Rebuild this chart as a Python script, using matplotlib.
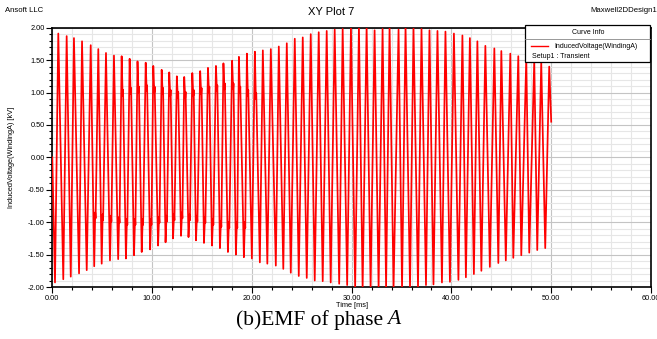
import numpy as np
import matplotlib.pyplot as plt
from matplotlib.ticker import MultipleLocator, FormatStrFormatter
from matplotlib.patches import Rectangle
from matplotlib.lines import Line2D

# Positive peaks of the induced voltage (time in ms, value in kV)
peak_t = [0.6, 1.44, 2.17, 2.98, 3.85, 4.61, 5.38, 6.18, 6.95, 7.75,
          8.54, 9.36, 10.12, 10.96, 11.72, 12.48, 13.22, 14.03, 14.82, 15.6,
          16.4, 17.15, 18.02, 18.7, 19.5, 20.3, 21.1, 21.9, 22.7, 23.5,
          24.3, 25.1, 25.9, 26.7, 27.5, 28.3, 29.1, 29.93, 30.73, 31.5,
          32.3, 33.1, 33.8, 34.7, 35.4, 36.2, 37.0, 37.8, 38.6, 39.4,
          40.25, 41.1, 41.85, 42.6, 43.4, 44.3, 45.0, 45.9, 46.7, 47.5,
          48.3, 49.0, 49.8]
peak_v = [1.91, 1.87, 1.84, 1.79, 1.73, 1.67, 1.61, 1.57, 1.56, 1.52,
          1.48, 1.46, 1.41, 1.35, 1.31, 1.25, 1.24, 1.30, 1.33, 1.38,
          1.41, 1.45, 1.49, 1.55, 1.60, 1.63, 1.65, 1.67, 1.71, 1.76,
          1.83, 1.85, 1.90, 1.93, 1.95, 1.97, 1.98, 2.00, 2.02, 2.02,
          1.96, 1.98, 2.02, 1.97, 2.02, 1.99, 1.98, 1.96, 1.95, 1.94,
          1.91, 1.88, 1.84, 1.79, 1.72, 1.68, 1.64, 1.60, 1.56, 1.53,
          1.50, 1.47, 1.40]

# Negative peaks (troughs)
trough_t = [0.27, 1.1, 1.85, 2.68, 3.45, 4.2, 4.95, 5.78, 6.6, 7.38,
            8.19, 8.96, 9.8, 10.6, 11.35, 12.1, 12.9, 13.65, 14.4, 15.2,
            16.0, 16.8, 17.6, 18.4, 19.2, 20.0, 20.8, 21.55, 22.4, 23.15,
            23.9, 24.7, 25.5, 26.3, 27.1, 27.9, 28.75, 29.55, 30.35, 31.1,
            31.9, 32.7, 33.45, 34.2, 35.05, 35.85, 36.65, 37.45, 38.2, 39.05,
            39.85, 40.7, 41.45, 42.25, 43.0, 43.85, 44.7, 45.45, 46.2, 47.0,
            47.8, 48.6, 49.4]
trough_v = [-1.93, -1.88, -1.84, -1.79, -1.74, -1.68, -1.64, -1.59, -1.57, -1.56,
            -1.51, -1.46, -1.42, -1.36, -1.31, -1.25, -1.21, -1.23, -1.28, -1.32,
            -1.36, -1.40, -1.46, -1.50, -1.54, -1.56, -1.62, -1.64, -1.67, -1.72,
            -1.78, -1.83, -1.86, -1.90, -1.91, -1.93, -1.95, -1.97, -2.01, -2.02,
            -2.02, -2.01, -2.00, -2.01, -2.00, -2.00, -2.00, -1.97, -1.96, -1.93,
            -1.92, -1.89, -1.85, -1.80, -1.75, -1.69, -1.63, -1.59, -1.55, -1.51,
            -1.47, -1.43, -1.40]

# small notches on the falling edge after the positive peaks (7-21 ms)
pos_dip_t = [7.05, 7.85, 8.64, 9.46, 10.22, 11.06, 11.82, 12.58, 13.32, 14.13,
             14.92, 15.7, 16.5, 17.25, 18.12, 18.8, 19.6, 20.4]
pos_dip_v = [0.95, 0.98, 1.00, 1.02, 1.00, 0.98, 0.95, 0.92, 0.92, 0.95,
             0.98, 1.00, 1.02, 1.05, 1.05, 1.00, 0.95, 0.90]
pos_bump_t = [7.09, 7.89, 8.68, 9.50, 10.26, 11.10, 11.86, 12.62, 13.36, 14.17,
              14.96, 15.74, 16.54, 17.29, 18.16, 18.84, 19.64, 20.44]
pos_bump_v = [1.04, 1.07, 1.09, 1.11, 1.09, 1.07, 1.04, 1.01, 1.01, 1.04,
              1.07, 1.09, 1.11, 1.14, 1.14, 1.09, 1.04, 0.99]

# small notches on the rising edge after the troughs (4-20 ms)
neg_dip_t = [4.3, 5.05, 5.88, 6.7, 7.48, 8.29, 9.06, 9.9, 10.7, 11.45,
             12.2, 13.0, 13.75, 14.5, 15.3, 16.1, 16.9, 17.7, 18.5, 19.3]
neg_dip_v = [-0.85, -0.88, -0.90, -0.92, -0.95, -0.95, -0.95, -0.95, -0.92, -0.90,
             -0.88, -0.85, -0.88, -0.90, -0.92, -0.95, -0.98, -1.00, -1.00, -1.00]
neg_bump_t = [4.34, 5.09, 5.92, 6.74, 7.52, 8.33, 9.10, 9.94, 10.74, 11.49,
              12.24, 13.04, 13.79, 14.54, 15.34, 16.14, 16.94, 17.74, 18.54, 19.34]
neg_bump_v = [-0.94, -0.97, -0.99, -1.01, -1.04, -1.04, -1.04, -1.04, -1.01, -0.99,
              -0.97, -0.94, -0.97, -0.99, -1.01, -1.04, -1.07, -1.09, -1.09, -1.09]

# first and last samples of the trace
end_t = [0.0, 50.0]
end_v = [0.0, 0.55]

t = np.array(end_t + peak_t + trough_t + pos_dip_t + pos_bump_t + neg_dip_t + neg_bump_t)
v = np.array(end_v + peak_v + trough_v + pos_dip_v + pos_bump_v + neg_dip_v + neg_bump_v)
order = np.argsort(t)
t, v = t[order], v[order]

plt.rcParams['font.family'] = ['Liberation Sans', 'DejaVu Sans']

fig = plt.figure(figsize=(6.57, 3.39), dpi=100)
ax = fig.add_axes([52.3 / 657, 1 - 287 / 339, (651 - 52.3) / 657, (287 - 27.7) / 339])

ax.plot(t, v, color='#ff0000', lw=1.25, zorder=3)

ax.set_xlim(0, 60)
ax.set_ylim(-2, 2)
ax.xaxis.set_major_locator(MultipleLocator(10))
ax.xaxis.set_minor_locator(MultipleLocator(2))
ax.yaxis.set_major_locator(MultipleLocator(0.5))
ax.yaxis.set_minor_locator(MultipleLocator(0.1))
ax.xaxis.set_major_formatter(FormatStrFormatter('%.2f'))
ax.yaxis.set_major_formatter(FormatStrFormatter('%.2f'))
ax.grid(which='major', color='#c4c4c4', lw=0.8)
ax.grid(which='minor', color='#e6e6e6', lw=0.8)
ax.set_axisbelow(True)
ax.tick_params(which='major', direction='out', length=4, width=0.8, labelsize=5.3, pad=1.5)
ax.tick_params(which='minor', direction='out', length=2.5, width=0.8)
for s in ax.spines.values():
    s.set_linewidth(1.2)

ax.set_xlabel('Time [ms]', fontsize=5.3, labelpad=0.5)
fig.text(12 / 657, 1 - 157 / 339, 'InducedVoltage(WindingA) [kV]', rotation=90,
         fontsize=5.3, ha='center', va='center')

fig.text(5 / 657, 1 - 10 / 339, 'Ansoft LLC', fontsize=5.6, ha='left', va='center')
fig.text(331 / 657, 1 - 12 / 339, 'XY Plot 7', fontsize=8, ha='center', va='center')
fig.text(657 / 657, 1 - 10 / 339, 'Maxwell2DDesign1', fontsize=5.6, ha='right', va='center')


def px(x, y):
    return x / 657, 1 - y / 339


# "Curve Info" box
box = Rectangle(px(525, 62), 125 / 657, 37 / 339, transform=fig.transFigure,
                facecolor='white', edgecolor='black', lw=0.9, zorder=5)
fig.patches.append(box)
fig.lines.append(Line2D([525 / 657, 650 / 657], [1 - 39 / 339] * 2, transform=fig.transFigure,
                        color='#888888', lw=0.6, zorder=6))
fig.text(*px(588, 32.5), 'Curve Info', fontsize=5, ha='center', va='center', zorder=6)
fig.lines.append(Line2D([531 / 657, 548 / 657], [1 - 46 / 339] * 2, transform=fig.transFigure,
                        color='#ff0000', lw=1.0, zorder=6))
fig.text(*px(554, 46), 'InducedVoltage(WindingA)', fontsize=5, ha='left', va='center', zorder=6)
fig.text(*px(532, 56), 'Setup1 : Transient', fontsize=5, ha='left', va='center', zorder=6)

# caption under the chart
fig.text(*px(383, 320), '(b)EMF of phase', fontsize=15.5, family='Liberation Serif',
         ha='right', va='center')
fig.text(*px(387, 320), 'A', fontsize=15.5, family='Liberation Serif', fontstyle='italic',
         ha='left', va='center')

fig.savefig('out.png', dpi=100)
